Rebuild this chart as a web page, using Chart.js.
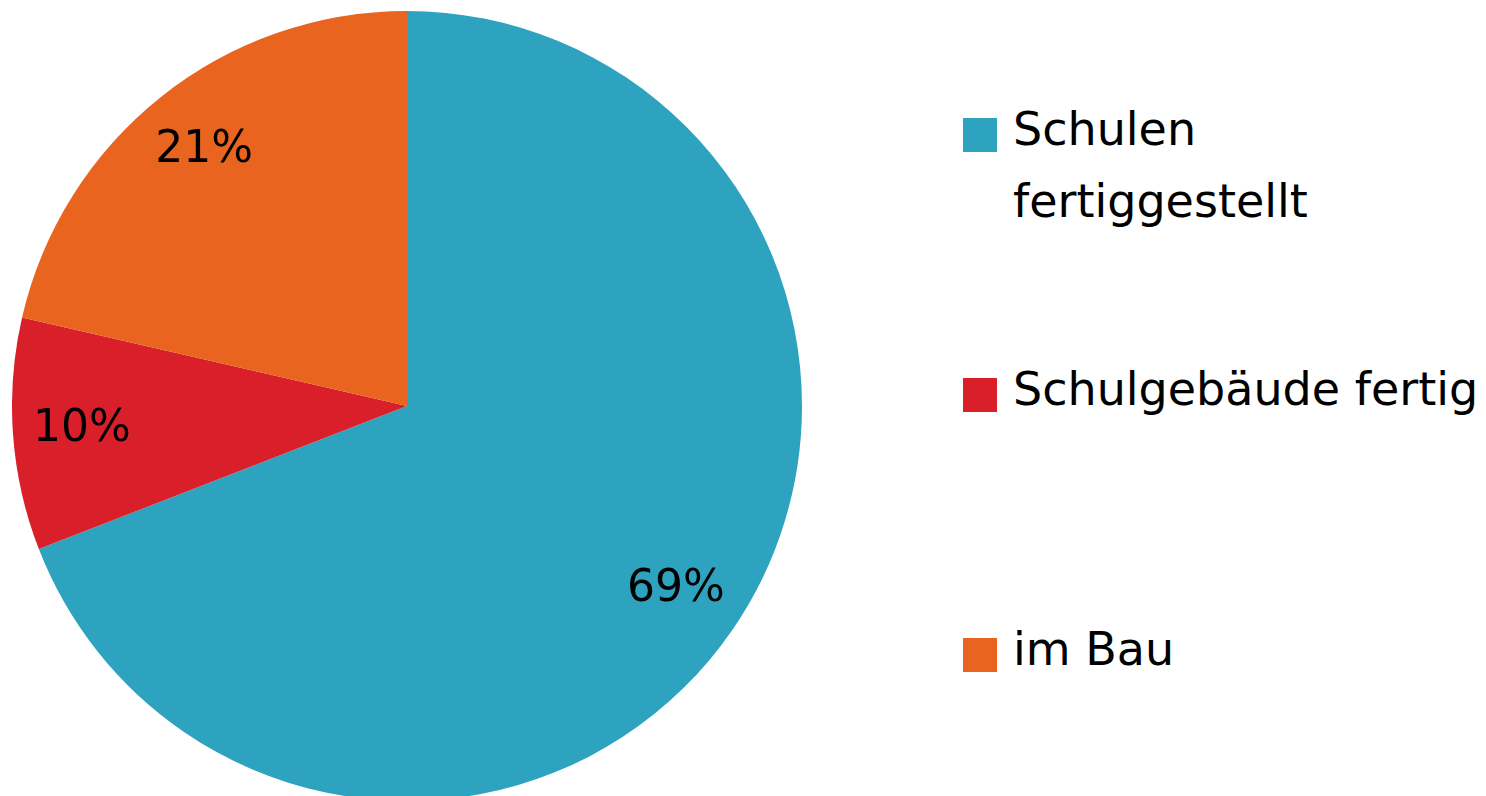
<!DOCTYPE html>
<html>
<head>
<meta charset="utf-8">
<script src="https://cdn.jsdelivr.net/npm/chart.js@4/dist/chart.umd.min.js"></script>
<style>
    html, body { margin: 0; padding: 0; background: #fff; overflow: hidden; }
    body { width: 1486px; height: 796px; position: relative; font-family: "DejaVu Sans", sans-serif; }
    #wrap { position: absolute; left: 12px; top: 11px; width: 790px; height: 790px; }
    #legend { position: absolute; left: 963px; top: 0; }
    .item { position: absolute; left: 0; display: flex; align-items: flex-start; white-space: nowrap; }
    .box { width: 34px; height: 34px; margin-top: 25px; margin-right: 16px; flex: none; }
    .txt { font-size: 46px; line-height: 72px; color: #000; }
</style>
</head>
<body>
<div id="wrap"><canvas id="pieChart"></canvas></div>
<div id="legend"></div>
<script>
var labels = ["Schulen fertiggestellt", "Schulgebäude fertig", "im Bau"];
var legendLines = [["Schulen", "fertiggestellt"], ["Schulgebäude fertig"], ["im Bau"]];
var values = [69.1, 9.5, 21.4];
var colors = ["#2ea3c0", "#d91f29", "#e8641f"];
var legendTops = [93, 353, 613];

// percent labels inside the slices
var sliceLabels = {
    id: 'sliceLabels',
    afterDatasetsDraw: function(chart) {
        var ctx = chart.ctx;
        var meta = chart.getDatasetMeta(0);
        var total = values.reduce(function(a, b) { return a + b; }, 0);
        ctx.save();
        ctx.font = '44px "DejaVu Sans", sans-serif';
        ctx.fillStyle = '#000';
        ctx.textAlign = 'center';
        ctx.textBaseline = 'middle';
        meta.data.forEach(function(arc, i) {
            var p = arc.getProps(['x', 'y', 'startAngle', 'endAngle', 'outerRadius'], true);
            var mid = (p.startAngle + p.endAngle) / 2;
            var r = p.outerRadius * 0.825;
            var txt = Math.round(values[i] / total * 100) + '%';
            ctx.fillText(txt, p.x + Math.cos(mid) * r, p.y + Math.sin(mid) * r);
        });
        ctx.restore();
    }
};

var ctxPie = document.getElementById("pieChart");
var pieChart = new Chart(ctxPie, {
    type: 'pie',
    data: {
        labels: labels,
        datasets: [
            {
                data: values,
                backgroundColor: colors,
                borderWidth: 0
            }
        ]
    },
    options: {
        responsive: true,
        maintainAspectRatio: false,
        animation: false,
        layout: { padding: 0 },
        plugins: {
            legend: { display: false },
            tooltip: { enabled: false }
        }
    },
    plugins: [sliceLabels]
});

// html legend
var legend = document.getElementById("legend");
labels.forEach(function(label, i) {
    var item = document.createElement("div");
    item.className = "item";
    item.style.top = legendTops[i] + "px";
    var box = document.createElement("div");
    box.className = "box";
    box.style.background = colors[i];
    var txt = document.createElement("div");
    txt.className = "txt";
    txt.innerHTML = legendLines[i].join("<br>");
    item.appendChild(box);
    item.appendChild(txt);
    legend.appendChild(item);
});
</script>
</body>
</html>
